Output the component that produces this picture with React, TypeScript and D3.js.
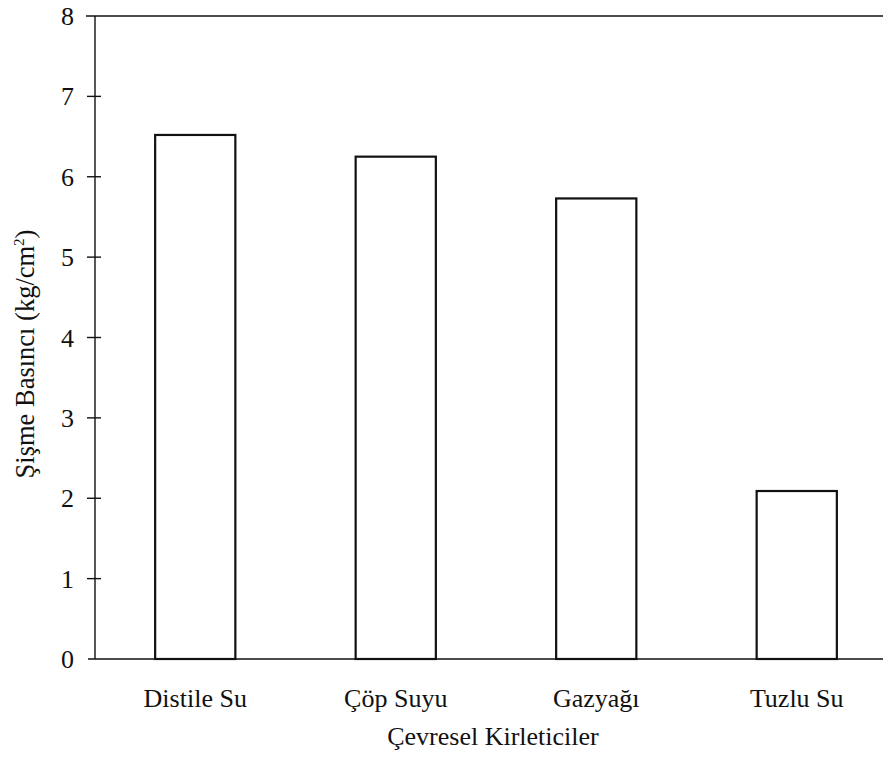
import React from "react";
import * as d3 from "d3";

const categories = ["Distile Su", "Çöp Suyu", "Gazyağı", "Tuzlu Su"];
const values = [6.52, 6.25, 5.73, 2.09];
const yTicks = [0, 1, 2, 3, 4, 5, 6, 7, 8];

export default function App() {
  const W = 892, H = 757;
  const left = 95, right = 883, top = 16, bottom = 659;
  const x = d3.scaleBand<string>().domain(categories).range([left, 897]).paddingInner(0.6).paddingOuter(0.3);
  const y = d3.scaleLinear().domain([0, 8]).range([bottom, top]);
  const font = "'Liberation Serif', 'Times New Roman', serif";
  return (
    <svg width={W} height={H} style={{ position: "absolute", left: 0, top: 0, background: "#fff" }}>
      <g stroke="#111" strokeWidth={1.4} fill="none">
        <line x1={86} x2={right} y1={y(8)} y2={y(8)} />
        <line x1={88} x2={right} y1={y(0)} y2={y(0)} />
        <line x1={left} x2={left} y1={y(8)} y2={y(0)} />
        {yTicks.filter(t => t > 0 && t < 8).map(t => (
          <line key={t} x1={87} x2={101} y1={y(t)} y2={y(t)} />
        ))}
      </g>
      {categories.map((c, i) => (
        <rect key={c} x={x(c)} y={y(values[i])} width={x.bandwidth()} height={y(0) - y(values[i])}
          fill="#fff" stroke="#111" strokeWidth={2.2} />
      ))}
      <g fontFamily={font} fontSize={26} fill="#111">
        {yTicks.map(t => (
          <text key={t} x={74} y={y(t)} dy="0.35em" textAnchor="end">{t}</text>
        ))}
        {categories.map(c => (
          <text key={c} x={(x(c) as number) + x.bandwidth() / 2} y={707} textAnchor="middle">{c}</text>
        ))}
        <text x={493} y={745} textAnchor="middle">Çevresel Kirleticiler</text>
        <text transform={`translate(34,${354}) rotate(-90)`} textAnchor="middle" fontSize={26.5}>
          Şişme Basıncı (kg/cm<tspan dy="-10" fontSize={15}>2</tspan><tspan dy="10">)</tspan>
        </text>
      </g>
    </svg>
  );
}
